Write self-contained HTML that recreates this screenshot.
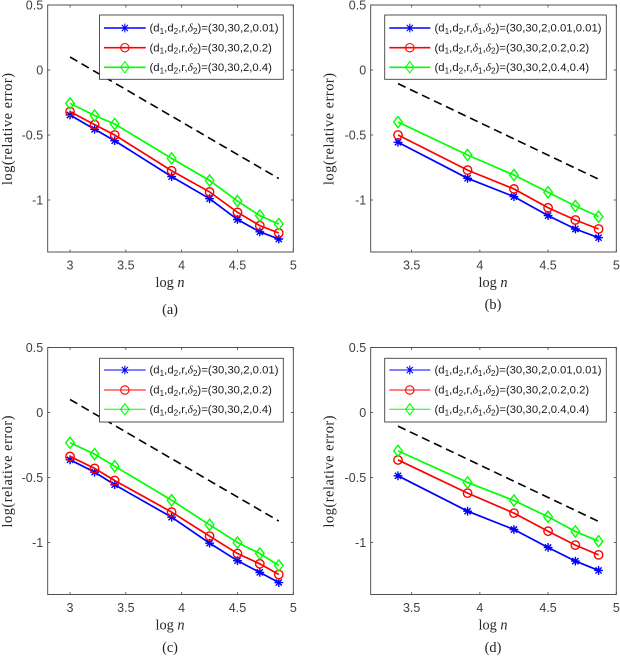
<!DOCTYPE html>
<html lang="en">
<head>
<meta charset="utf-8">
<title>Relative error versus log n</title>
<style>
html,body{margin:0;padding:0;background:#fff;width:620px;height:656px;overflow:hidden}
svg{display:block;filter:blur(0.35px)}
.tick{font-family:"Liberation Sans",sans-serif;font-size:12.5px;fill:#404040}
.serif{font-family:"Liberation Serif",serif;font-size:14.3px;fill:#262626}
.cap{font-family:"Liberation Serif",serif;font-size:14.3px;fill:#222}
.leg{font-family:"Liberation Sans",sans-serif;font-size:11.3px;fill:#1a1a1a}
</style>
</head>
<body>
<svg id="fig" xmlns="http://www.w3.org/2000/svg" width="620" height="656" viewBox="0 0 620 656"></svg>
<script>
// ---- data ----
const xLong = [3, 3.22, 3.4, 3.91, 4.25, 4.5, 4.7, 4.87];
const xShort = [3.4, 3.91, 4.25, 4.5, 4.7, 4.87];

const blueA = [-0.346, -0.456, -0.544, -0.82, -0.99, -1.15, -1.245, -1.30];
const redA = [-0.32, -0.42, -0.50, -0.775, -0.938, -1.095, -1.197, -1.254];
const greenA = [-0.257, -0.35, -0.415, -0.68, -0.85, -1.008, -1.12, -1.185];
const refA = [0.10, -0.835];

const blueB = [-0.556, -0.833, -0.974, -1.12, -1.223, -1.29];
const redB = [-0.50, -0.77, -0.915, -1.06, -1.154, -1.223];
const greenB = [-0.40, -0.654, -0.808, -0.94, -1.046, -1.128];
const refB = [-0.105, -0.84];

const blueC = [-0.364, -0.459, -0.556, -0.805, -1.005, -1.14, -1.23, -1.308];
const redC = [-0.338, -0.43, -0.523, -0.766, -0.951, -1.085, -1.164, -1.246];
const greenC = [-0.233, -0.32, -0.413, -0.675, -0.864, -1.0, -1.085, -1.177];
const refC = [0.10, -0.835];

const blueD = [-0.487, -0.759, -0.90, -1.038, -1.143, -1.215];
const redD = [-0.365, -0.62, -0.774, -0.913, -1.02, -1.095];
const greenD = [-0.295, -0.538, -0.677, -0.802, -0.915, -0.99];
const refD = [-0.105, -0.838];

const xTicksLong = [3, 3.5, 4, 4.5, 5];
const xTicksShort = [3.5, 4, 4.5, 5];
const yTicks = [-1, -0.5, 0, 0.5];
const yTickLabels = ["-1", "-0.5", "0", "0.5"];

const legendThree = ["(d1,d2,r,δ2)=(30,30,2,0.01)", "(d1,d2,r,δ2)=(30,30,2,0.2)", "(d1,d2,r,δ2)=(30,30,2,0.4)"];
const legendFour = ["(d1,d2,r,δ1,δ2)=(30,30,2,0.01,0.01)", "(d1,d2,r,δ1,δ2)=(30,30,2,0.2,0.2)", "(d1,d2,r,δ1,δ2)=(30,30,2,0.4,0.4)"];
const captions = ["(a)", "(b)", "(c)", "(d)"];

// ---- layout ----
const NS = "http://www.w3.org/2000/svg";
const svg = document.getElementById("fig");
const COLORS = ["#0000ff", "#ff0000", "#00ff00"];
const SERIES = ["blue", "red", "green"];
const WIDTH_THREE = [129, 122.4, 122.4];
const WIDTH_FOUR = [167, 154.7, 154.7];

const panels = [
  {id:"a", L:47.7, R:293.3, T:5, B:252, xMin:2.8, x:xLong, ticks:xTicksLong, s:[blueA,redA,greenA], ref:refA, labels:legendThree, legLen:WIDTH_THREE,
   box:[99.5,15,183.8,64.3], rows:[28,47.7,67.3], lineX:[104,145.7], textX:149.5, legW:1.6, capY:314, cap:captions[0], capX:170, yl:12},
  {id:"b", L:370.7, R:616.3, T:5, B:252, xMin:3.2, x:xShort, ticks:xTicksShort, s:[blueB,redB,greenB], ref:refB, labels:legendFour, legLen:WIDTH_FOUR,
   box:[384.7,15,221.6,64.3], rows:[28,47.7,67.3], lineX:[389.3,430.3], textX:434.5, legW:1.6, capY:309, cap:captions[1], capX:493, yl:333.5},
  {id:"c", L:47.7, R:293.3, T:347.5, B:594.5, xMin:2.8, x:xLong, ticks:xTicksLong, s:[blueC,redC,greenC], ref:refC, labels:legendThree, legLen:WIDTH_THREE,
   box:[99.5,358.3,183.8,63.7], rows:[370,390,409.3], lineX:[104,145.7], textX:149.5, legW:1, capY:652, cap:captions[2], capX:170, yl:12},
  {id:"d", L:370.7, R:616.3, T:347.5, B:594.5, xMin:3.2, x:xShort, ticks:xTicksShort, s:[blueD,redD,greenD], ref:refD, labels:legendFour, legLen:WIDTH_FOUR,
   box:[384.7,358.3,221.6,63.7], rows:[370,390,409.3], lineX:[389.3,430.3], textX:434.5, legW:1, capY:652, cap:captions[3], capX:493, yl:333.5}
];

function mk(parent, tag, attrs, text){
  const e = document.createElementNS(NS, tag);
  for (const k in attrs) e.setAttribute(k, attrs[k]);
  if (text !== undefined) e.textContent = text;
  parent.appendChild(e);
  return e;
}

function drawMarker(g, kind, px, py, color, w){
  let m;
  if (kind === 0){
    let d = "";
    for (let i = 0; i < 4; i++){
      const a = Math.PI * (i / 4);
      const dx = 4.4 * Math.cos(a), dy = 4.4 * Math.sin(a);
      d += "M" + (px + dx) + " " + (py + dy) + "L" + (px - dx) + " " + (py - dy);
    }
    m = mk(g, "path", {d:d, fill:"none", stroke:color, "stroke-width":w});
  } else if (kind === 1){
    m = mk(g, "circle", {cx:px, cy:py, r:4.2, fill:"none", stroke:color, "stroke-width":w});
  } else {
    m = mk(g, "polygon", {points:[px,py-5.6,px+4.3,py,px,py+5.6,px-4.3,py].join(" "), fill:"none", stroke:color, "stroke-width":w});
  }
  
  
}

function legendText(g, x, y, label, len){
  const t = mk(g, "text", {x:x, y:y + 3.6, class:"leg"});
  label.split(/(d[12]|δ[12])/).forEach(function(part){
    if (/^[dδ][12]$/.test(part)){
      const base = mk(t, "tspan", {}, part[0]);
      if (part[0] === "δ"){
        base.setAttribute("font-family", '"Liberation Serif",serif');
        base.setAttribute("font-style", "italic");
      }
      mk(t, "tspan", {dy:2.4, "font-size":"8.2"}, part[1]);
      mk(t, "tspan", {dy:-2.4}, "\u200b");
    } else if (part) {
      mk(t, "tspan", {}, part);
    }
  });
  // fit the label to its measured width in the figure using letter spacing
  const natural = t.getComputedTextLength();
  t.style.letterSpacing = ((len - natural) / label.length) + "px";
  
  
}

panels.forEach(function(p){
  const X = function(v){ return p.L + (v - p.xMin) / (5 - p.xMin) * (p.R - p.L); };
  const Y = function(v){ return p.T + (0.5 - v) / 1.9 * (p.B - p.T); };

  const g = mk(svg, "g", {});
  
  

  // reference dashed line
  const first = p.x[0], last = p.x[p.x.length - 1];
  const ref = mk(g, "line", {x1:X(first), y1:Y(p.ref[0]), x2:X(last), y2:Y(p.ref[1]), stroke:"#000", "stroke-width":1.6, "stroke-dasharray":"8.4 4.9"});
  
  

  // series
  p.s.forEach(function(vals, k){
    const sg = mk(g, "g", {});
    
    
    const pts = vals.map(function(v, i){ return X(p.x[i]) + "," + Y(v); }).join(" ");
    const line = mk(sg, "polyline", {points:pts, fill:"none", stroke:COLORS[k], "stroke-width":1.7});
    
    
    vals.forEach(function(v, i){ drawMarker(sg, k, X(p.x[i]), Y(v), COLORS[k], 1.4); });
  });

  // axes box
  const axis = mk(g, "rect", {x:p.L, y:p.T, width:p.R - p.L, height:p.B - p.T, fill:"none", stroke:"#404040", "stroke-width":0.9});
  
  

  // x ticks
  p.ticks.forEach(function(v){
    const tb = mk(g, "line", {x1:X(v), x2:X(v), y1:p.B, y2:p.B - 2.5, stroke:"#404040", "stroke-width":0.8});
    
    
    const tt = mk(g, "line", {x1:X(v), x2:X(v), y1:p.T, y2:p.T + 2.5, stroke:"#404040", "stroke-width":0.8});
    
    
    const lab = mk(g, "text", {x:X(v), y:p.B + 17.5, "text-anchor":"middle", class:"tick"}, String(v));
    
    
  });

  // y ticks
  yTicks.forEach(function(v, i){
    const tl = mk(g, "line", {x1:p.L, x2:p.L + 2.5, y1:Y(v), y2:Y(v), stroke:"#404040", "stroke-width":0.8});
    
    
    const tr = mk(g, "line", {x1:p.R, x2:p.R - 2.5, y1:Y(v), y2:Y(v), stroke:"#404040", "stroke-width":0.8});
    
    
    const lab = mk(g, "text", {x:p.L - 4.5, y:Y(v) + 4.5, "text-anchor":"end", class:"tick"}, yTickLabels[i]);
    
    
  });

  // axis titles
  const xt = mk(g, "text", {x:(p.L + p.R) / 2 - 0.5, y:p.B + 35, "text-anchor":"middle", class:"serif"});
  mk(xt, "tspan", {}, "log ");
  mk(xt, "tspan", {"font-style":"italic"}, "n");
  
  

  const cy = (p.T + p.B) / 2 + 0.5;
  const yt = mk(g, "text", {x:p.yl, y:cy, "text-anchor":"middle", class:"serif", textLength:112, transform:"rotate(-90 " + p.yl + " " + cy + ")"}, "log(relative error)");
  
  

  // legend
  const lg = mk(g, "g", {});
  
  
  const bx = mk(lg, "rect", {x:p.box[0], y:p.box[1], width:p.box[2], height:p.box[3], fill:"#fff", stroke:"#404040", "stroke-width":0.9});
  
  
  p.labels.forEach(function(label, k){
    const ry = p.rows[k];
    const entry = mk(lg, "g", {});
    
    
    const ll = mk(entry, "line", {x1:p.lineX[0], x2:p.lineX[1], y1:ry, y2:ry, stroke:COLORS[k], "stroke-width":p.legW});
    
    
    drawMarker(entry, k, (p.lineX[0] + p.lineX[1]) / 2, ry, COLORS[k], 1.1);
    legendText(entry, p.textX, ry, label, p.legLen[k]);
  });

  // caption
  const cap = mk(g, "text", {x:p.capX, y:p.capY, "text-anchor":"middle", class:"cap"}, p.cap);
  
  
});
</script>
</body>
</html>
